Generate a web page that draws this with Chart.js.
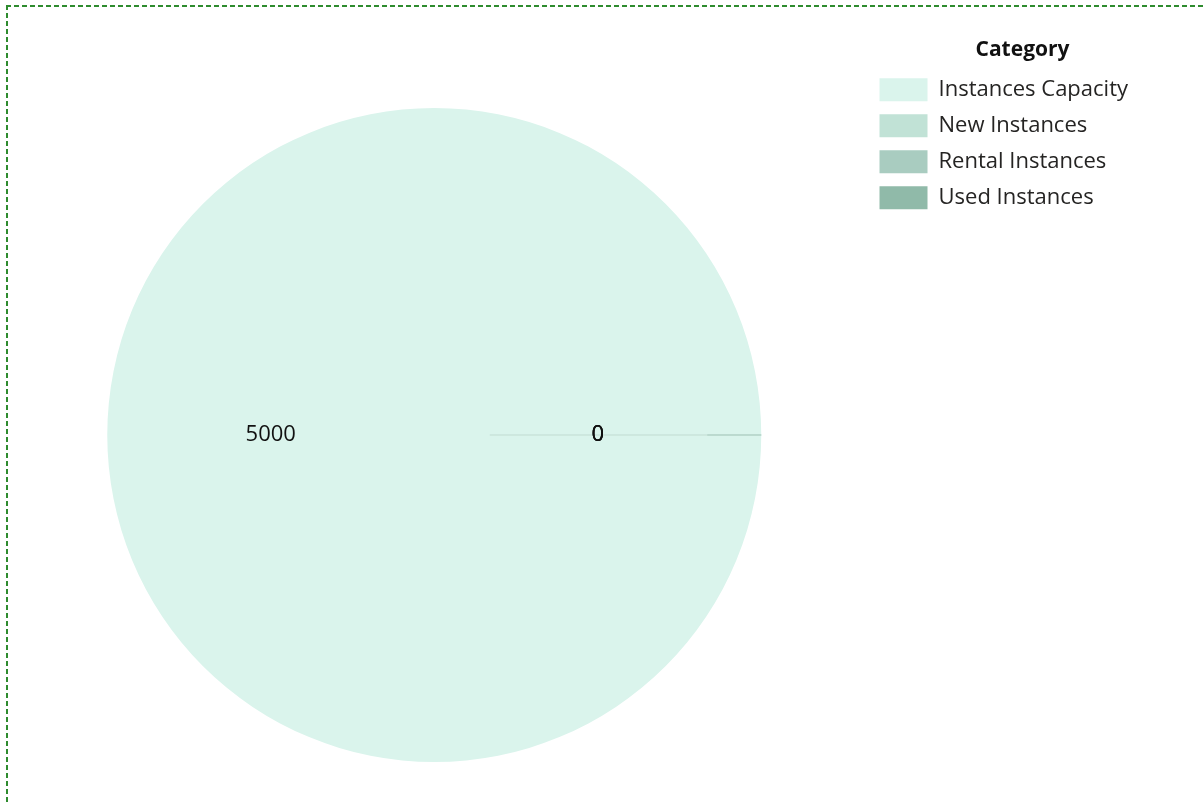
<!DOCTYPE html>
<html>
<head>
<meta charset="utf-8">
<script src="https://cdn.jsdelivr.net/npm/chart.js@4/dist/chart.umd.min.js"></script>
<style>
  html, body { margin: 0; padding: 0; background: #fff; overflow: hidden; }
  #wrap { position: absolute; left: 0; top: 0; width: 1203px; height: 870px; }
  .dash { position: absolute; pointer-events: none; }
  #dashTop {
    left: 6px; top: 5px; width: 1400px; height: 2px;
    background: repeating-linear-gradient(to right, #2e8b2e 0 5px, transparent 5px 8px);
  }
  #dashLeft {
    left: 6px; top: 5px; width: 2px; height: 1000px;
    background: repeating-linear-gradient(to bottom, #2e8b2e 0 5px, transparent 5px 8px);
  }
</style>
</head>
<body>
<div id="wrap"><canvas id="pieChart"></canvas></div>
<div class="dash" id="dashTop"></div>
<div class="dash" id="dashLeft"></div>
<script>
const categories = ["Instances Capacity", "New Instances", "Rental Instances", "Used Instances"];
const values = [5000, 0, 0, 0];
const sliceColors = ["#daf4ec", "#c1e2d6", "#a9ccc0", "#90baa9"];
const legendTitle = "Category";

const fontFamily = "'Segoe UI', 'Open Sans', 'Noto Sans', sans-serif";
const titleFont = { family: fontFamily, size: 21, weight: "bold" };
const titlePadTop = 40;

// value labels at half radius, plus the hairline the zero slices leave behind
const sliceLabels = {
  id: "sliceLabels",
  afterDatasetsDraw(chart) {
    const ctx = chart.ctx;
    const arcs = chart.getDatasetMeta(0).data;
    ctx.save();
    arcs.forEach((arc, i) => {
      if (values[i] !== 0) return;
      const r = arc.outerRadius;
      const a = arc.startAngle;
      ctx.strokeStyle = i === arcs.length - 1 ? "#a9cbbf" : "#c9e3da";
      ctx.lineWidth = 1;
      ctx.beginPath();
      const from = i === arcs.length - 1 ? 0.835 : 0.17;
      ctx.moveTo(arc.x + Math.cos(a) * r * from, arc.y + Math.sin(a) * r * from);
      ctx.lineTo(arc.x + Math.cos(a) * r, arc.y + Math.sin(a) * r);
      ctx.stroke();
    });
    ctx.font = `22px ${fontFamily}`;
    ctx.fillStyle = "#111";
    ctx.textAlign = "center";
    ctx.textBaseline = "middle";
    arcs.forEach((arc, i) => {
      const pos = arc.tooltipPosition();
      ctx.fillText(String(values[i]), pos.x, pos.y);
    });
    ctx.restore();
  },
};

// the report centres its legend title a bit right of the items, so draw it here
const offsetTitle = {
  id: "offsetTitle",
  afterDraw(chart) {
    const lg = chart.legend;
    const ctx = chart.ctx;
    ctx.save();
    ctx.font = `bold ${titleFont.size}px ${fontFamily}`;
    ctx.fillStyle = "#111";
    ctx.textAlign = "center";
    ctx.textBaseline = "middle";
    ctx.fillText(legendTitle, lg.left + lg.options.labels.padding + 143, lg.top + titlePadTop + titleFont.size / 2);
    ctx.restore();
  },
};

new Chart(document.getElementById("pieChart"), {
  type: "pie",
  data: {
    labels: categories,
    datasets: [
      {
        data: values,
        backgroundColor: sliceColors,
        borderWidth: 0,
        radius: 327,
      },
    ],
  },
  options: {
    responsive: true,
    maintainAspectRatio: false,
    animation: false,
    rotation: 90,
    layout: { padding: { left: 2, right: 65, top: 0, bottom: 0 } },
    plugins: {
      tooltip: { enabled: false },
      legend: {
        position: "right",
        align: "start",
        title: {
          display: true,
          text: legendTitle,
          color: "rgba(0,0,0,0)",
          font: titleFont,
          padding: { top: titlePadTop, bottom: 0 },
        },
        labels: {
          boxWidth: 48,
          boxHeight: 23,
          padding: 13,
          color: "#252423",
          font: { family: fontFamily, size: 22 },
        },
      },
    },
  },
  plugins: [sliceLabels, offsetTitle],
});
</script>
</body>
</html>
